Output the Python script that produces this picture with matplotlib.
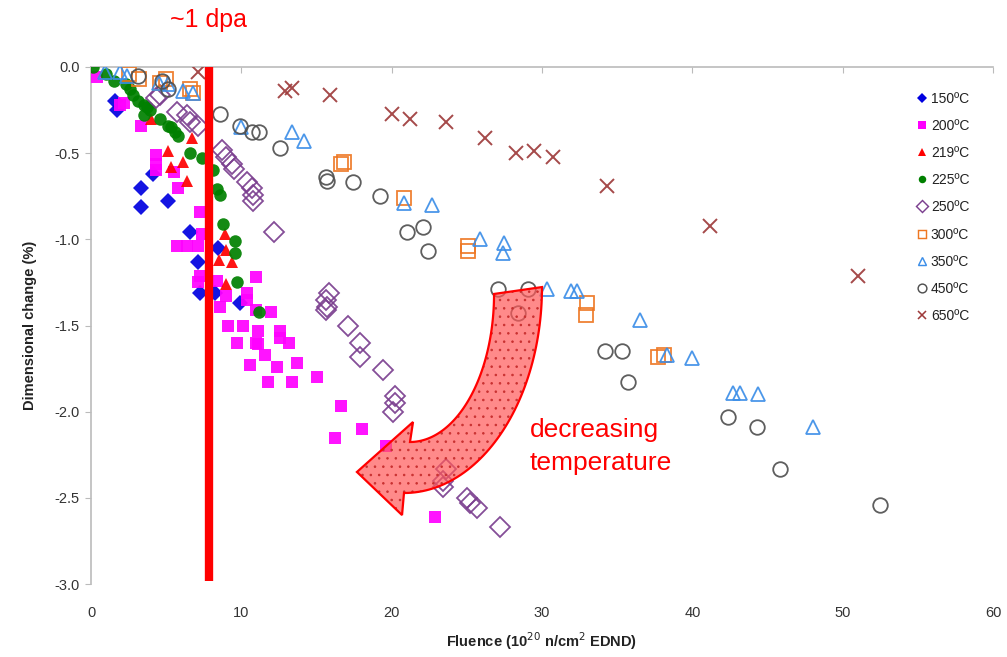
import matplotlib
matplotlib.use("Agg")
import numpy as np
import matplotlib.pyplot as plt
from matplotlib.patches import PathPatch
from matplotlib.path import Path
from matplotlib.lines import Line2D

# Dimensional change of graphite vs. fluence, by irradiation temperature
x150 = [1.6, 1.7, 4.1, 3.3, 3.3, 5.1, 6.6, 8.45, 7.1, 7.25, 8.25, 9.9]
y150 = [-0.20, -0.25, -0.62, -0.70, -0.81, -0.78, -0.96, -1.05, -1.13, -1.31, -1.31, -1.37]

x200 = [0.4, 1.9, 2.2, 3.3, 4.3, 4.3, 4.3, 5.5, 5.8, 7.25, 7.4, 5.7, 6.4, 7.1, 7.25, 7.1,
        8.4, 9.0, 8.6, 9.1, 10.1, 11.0, 10.4, 11.0, 9.7, 11.0, 12.0, 10.4, 11.1, 12.6, 12.6,
        13.2, 11.1, 11.6, 10.6, 12.4, 13.7, 11.8, 13.4, 15.0, 16.6, 16.2, 18.0, 19.6, 22.9]
y200 = [-0.06, -0.22, -0.21, -0.34, -0.51, -0.56, -0.60, -0.61, -0.70, -0.84, -0.97, -1.04,
        -1.04, -1.04, -1.21, -1.25, -1.24, -1.33, -1.39, -1.50, -1.50, -1.22, -1.31, -1.41,
        -1.60, -1.60, -1.42, -1.35, -1.53, -1.53, -1.57, -1.60, -1.61, -1.67, -1.73, -1.74,
        -1.72, -1.83, -1.83, -1.80, -1.97, -2.15, -2.10, -2.20, -2.61]

x219 = [4.0, 6.7, 5.1, 6.1, 5.3, 6.4, 8.9, 9.0, 8.5, 9.4, 9.0]
y219 = [-0.30, -0.41, -0.49, -0.55, -0.58, -0.66, -0.97, -1.06, -1.12, -1.13, -1.26]

x225 = [0.1, 1.0, 1.5, 2.3, 2.6, 2.8, 3.1, 3.5, 3.7, 3.9, 3.5, 4.6, 5.1, 5.3, 5.6, 5.8, 6.6,
        7.4, 8.1, 8.4, 8.6, 8.8, 9.6, 9.6, 9.7, 11.2]
y225 = [0.0, -0.04, -0.08, -0.10, -0.13, -0.16, -0.20, -0.22, -0.23, -0.25, -0.28, -0.30,
        -0.34, -0.35, -0.38, -0.40, -0.50, -0.53, -0.60, -0.71, -0.74, -0.91, -1.01, -1.08,
        -1.25, -1.42]

x250 = [4.3, 4.6, 5.7, 6.4, 6.6, 7.1, 8.7, 9.0, 9.4, 9.5, 10.4, 10.7, 10.8, 10.8, 12.2, 15.8,
        15.6, 15.7, 15.6, 17.1, 17.9, 17.9, 19.4, 20.2, 20.2, 20.1, 23.6, 23.4, 23.4, 25.0,
        25.2, 25.7, 27.2]
y250 = [-0.18, -0.16, -0.26, -0.28, -0.32, -0.34, -0.48, -0.52, -0.56, -0.59, -0.67, -0.70,
        -0.74, -0.78, -0.96, -1.31, -1.35, -1.39, -1.41, -1.50, -1.60, -1.68, -1.76, -1.91,
        -1.95, -2.00, -2.33, -2.40, -2.44, -2.50, -2.53, -2.56, -2.67]

x300 = [2.5, 3.2, 4.6, 5.0, 6.6, 6.8, 16.6, 16.8, 20.8, 25.1, 25.1, 33.0, 32.9, 37.7, 38.1]
y300 = [-0.04, -0.07, -0.09, -0.07, -0.13, -0.15, -0.56, -0.55, -0.76, -1.04, -1.07, -1.37,
        -1.44, -1.68, -1.67]

x350 = [0.9, 1.9, 2.4, 4.5, 5.1, 6.1, 6.8, 10.0, 13.4, 14.2, 20.8, 22.7, 25.9, 27.5, 27.4,
        30.3, 31.9, 32.3, 36.5, 38.3, 40.0, 42.7, 43.2, 44.4, 48.0]
y350 = [-0.03, -0.03, -0.05, -0.09, -0.10, -0.14, -0.15, -0.35, -0.38, -0.43, -0.79, -0.80,
        -1.00, -1.02, -1.08, -1.29, -1.30, -1.30, -1.47, -1.67, -1.69, -1.89, -1.89, -1.90,
        -2.09]

x450 = [3.1, 4.7, 5.1, 8.6, 9.9, 10.7, 11.2, 12.6, 15.6, 15.7, 17.4, 19.2, 21.0, 22.1, 22.4,
        27.1, 29.1, 28.4, 34.2, 35.3, 35.7, 42.4, 44.3, 45.8, 52.5]
y450 = [-0.05, -0.08, -0.13, -0.27, -0.34, -0.38, -0.38, -0.47, -0.64, -0.66, -0.67, -0.75,
        -0.96, -0.93, -1.07, -1.29, -1.29, -1.43, -1.65, -1.65, -1.83, -2.03, -2.09, -2.33,
        -2.54]

x650 = [7.1, 12.9, 13.4, 15.9, 20.0, 21.2, 23.6, 26.2, 28.3, 29.5, 30.7, 34.3, 41.2, 51.0]
y650 = [-0.03, -0.14, -0.12, -0.16, -0.27, -0.30, -0.32, -0.41, -0.50, -0.49, -0.52, -0.69,
        -0.92, -1.21]

labels = ["150\u00baC", "200\u00baC", "219\u00baC", "225\u00baC", "250\u00baC",
          "300\u00baC", "350\u00baC", "450\u00baC", "650\u00baC"]

dpa_fluence = 7.85  # fluence corresponding to roughly 1 dpa

series = [
    (x150, y150, dict(marker="D", ms=8.5, color="#0000E0", mfc="#0000E0", mew=0)),
    (x200, y200, dict(marker="s", ms=8.5, color="#FF00FF", mfc="#FF00FF", mew=0)),
    (x219, y219, dict(marker="^", ms=8.5, color="#FF0000", mfc="#FF0000", mew=0)),
    (x225, y225, dict(marker="o", ms=9, color="#008000", mfc="#008000", mew=0)),
    (x250, y250, dict(marker="D", ms=10, color="#7B3F8F", mfc="none", mew=1.3)),
    (x300, y300, dict(marker="s", ms=9.5, color="#EE7722", mfc="none", mew=1.3)),
    (x350, y350, dict(marker="^", ms=10, color="#3C8EE8", mfc="none", mew=1.3)),
    (x450, y450, dict(marker="o", ms=10.5, color="#505050", mfc="none", mew=1.3)),
    (x650, y650, dict(marker="x", ms=9.5, color="#9E3A3A", mfc="none", mew=1.4)),
]

plt.rcParams["hatch.linewidth"] = 0.6

fig = plt.figure(figsize=(10.07, 6.57), dpi=100)
ax = fig.add_axes([91 / 1007, 1 - 584 / 657, (993 - 91) / 1007, (584 - 67) / 657])

handles = []
for (xs, ys, st), lab in zip(series, labels):
    ax.plot(xs, ys, linestyle="none", alpha=0.92, zorder=3, **st)
    h = Line2D([], [], linestyle="none", marker=st["marker"], color=st["color"],
               mfc=st["mfc"], mew=st["mew"] * 0.8, ms=st["ms"] * 0.6)
    handles.append(h)

ax.set_xlim(0, 60)
ax.set_ylim(-3.0, 0.0)
ax.set_xticks(range(0, 61, 10))
ax.set_yticks([0.0, -0.5, -1.0, -1.5, -2.0, -2.5, -3.0])
ax.set_yticklabels([f"{v:.1f}" for v in [0.0, -0.5, -1.0, -1.5, -2.0, -2.5, -3.0]])

for side in ("right", "bottom"):
    ax.spines[side].set_visible(False)
for side in ("top", "left"):
    ax.spines[side].set_color("#BBBBBB")
    ax.spines[side].set_linewidth(1.2)

ax.tick_params(axis="x", top=True, bottom=False, labeltop=False, labelbottom=True,
               direction="in", length=4, color="#BBBBBB", pad=16, labelsize=10.5,
               labelcolor="#333333")
ax.tick_params(axis="y", direction="out", length=4, color="#BBBBBB", labelsize=10.5,
               labelcolor="#333333", pad=4)
for t in ax.get_xticklabels() + ax.get_yticklabels():
    t.set_family(["Liberation Sans", "DejaVu Sans"])

ax.set_xlabel("Fluence (10$^{20}$ n/cm$^{2}$ EDND)", fontsize=10.5, fontweight="bold",
              family=["Liberation Sans", "DejaVu Sans"], color="#222222", labelpad=7)
ax.set_ylabel("Dimensional change (%)", fontsize=10.5, fontweight="bold",
              family=["Liberation Sans", "DejaVu Sans"], color="#222222", labelpad=13)

# ~1 dpa marker line
ax.plot([dpa_fluence, dpa_fluence], [0.0, -2.98], color="#FF0000", lw=6,
        solid_capstyle="butt", zorder=5, clip_on=False)
fig.text(209 / 1007, 1 - 20 / 657, "~1 dpa", color="#FF0000", fontsize=18,
         family=["Liberation Sans", "DejaVu Sans"], ha="center", va="center")

# curved block arrow: two quarter-ellipse edges and a wedge head (axis units)
outer_c, outer_ax = (20.82, -1.277), (9.18, 1.195)
inner_c, inner_ax = (21.22, -1.317), (5.59, 0.859)
head_tip, head_upper, head_lower = (17.69, -2.350), (21.42, -2.060), (20.69, -2.600)

t = np.linspace(0, np.pi / 2, 60)
outer = np.column_stack([outer_c[0] + outer_ax[0] * np.cos(t),
                         outer_c[1] - outer_ax[1] * np.sin(t)])
inner = np.column_stack([inner_c[0] + inner_ax[0] * np.cos(t[::-1]),
                         inner_c[1] - inner_ax[1] * np.sin(t[::-1])])
verts = np.vstack([outer, [head_lower, head_tip, head_upper], inner, outer[:1]])
codes = [Path.MOVETO] + [Path.LINETO] * (len(verts) - 2) + [Path.CLOSEPOLY]
arrow_path = Path(verts, codes)

ax.add_patch(PathPatch(arrow_path, facecolor=(1.0, 0.35, 0.35, 0.70), edgecolor="none",
                       lw=0, zorder=6))
ax.add_patch(PathPatch(arrow_path, facecolor="none", edgecolor="#C83030", lw=0,
                       hatch="..", zorder=6))
ax.add_patch(PathPatch(arrow_path, facecolor="none", edgecolor="#FF0000", lw=1.6,
                       joinstyle="miter", zorder=6))

fig.text(530 / 1007, 1 - 430 / 657, "decreasing", color="#FF0000", fontsize=19,
         family=["Liberation Sans", "DejaVu Sans"], ha="left", va="center")
fig.text(530 / 1007, 1 - 463 / 657, "temperature", color="#FF0000", fontsize=19,
         family=["Liberation Sans", "DejaVu Sans"], ha="left", va="center")

leg = fig.legend(handles, labels, loc="upper left", bbox_to_anchor=(912 / 1007, 1 - 86 / 657),
                 frameon=False, handlelength=0.7, handletextpad=0.25, labelspacing=0.95,
                 borderaxespad=0, prop={"family": ["Liberation Sans", "DejaVu Sans"],
                                        "size": 10})
for txt in leg.get_texts():
    txt.set_color("#222222")

fig.savefig("out.png", dpi=100)
